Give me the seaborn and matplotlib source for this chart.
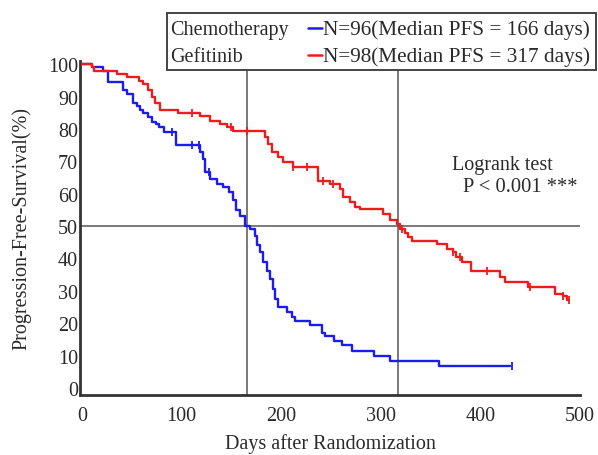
import numpy as np
import pandas as pd
import matplotlib
matplotlib.use("Agg")
import matplotlib.pyplot as plt
from matplotlib.patches import Rectangle
from matplotlib.lines import Line2D
import seaborn as sns

# ---------------- data ----------------
chemo_days = [0, 10, 21, 26, 40, 41, 45, 51, 55, 58, 61, 66, 70, 74, 77, 82, 94,
              118, 121, 124, 129, 136, 142, 148, 152, 155, 159, 164, 169, 174,
              176, 179, 182, 186, 189, 192, 194, 197, 206, 211, 214, 229, 241,
              244, 253, 261, 271, 293, 309, 358, 430]
chemo_surv = [100, 99, 98, 94.4, 94.4, 92, 90.7, 88, 87, 86, 85, 83.6, 82, 81.5,
              80.5, 79, 75, 73, 70.7, 66.6, 64.5, 63, 62, 60.5, 58, 55, 53, 50,
              49, 47, 44, 42, 39, 36, 33.6, 30.5, 27.5, 25, 23.5, 22, 20.8, 19.4,
              17, 16, 14.5, 13.3, 11.4, 9.9, 8.3, 6.8, 6.8]
chemo_cens_days = [90, 110, 117, 128, 432]

gef_days = [0, 10, 12, 35, 45, 57, 61, 66, 70, 73, 78, 96, 118, 129, 139, 146,
            152, 184, 187, 191, 197, 202, 212, 237, 249, 259, 262, 269, 274,
            279, 302, 309, 316, 319, 324, 327, 331, 356, 366, 372, 376, 382,
            391, 420, 425, 448, 475, 483, 487, 489]
gef_surv = [100, 99, 98, 97, 96, 94.8, 93.8, 92, 90, 88, 86, 85, 84, 82.5, 81.5,
            80.5, 79.5, 77.5, 75.3, 72.8, 71.3, 69.7, 68.2, 64, 63, 61.4, 59,
            57.4, 56, 55.2, 53.7, 52, 50.5, 49, 48, 46.6, 45.4, 44.4, 43, 42,
            40.4, 38.9, 36, 34.3, 32.7, 31.2, 29, 28.5, 27, 27]
gef_cens_days = [110, 150, 166, 212, 226, 242, 252, 321, 372, 380, 407, 450, 483, 489]

median_chemo = 166
median_gef = 317

x_ticks = [0, 100, 200, 300, 400, 500]
y_ticks = [0, 10, 20, 30, 40, 50, 60, 70, 80, 90, 100]

group_names = ["Chemotherapy", "Gefitinib"]
group_labels = ["N=96(Median PFS = 166 days)", "N=98(Median PFS = 317 days)"]
test_lines = ["Logrank test", "P < 0.001 ***"]
x_label = "Days after Randomization"
y_label = "Progression-Free-Survival(%)"

# ---------------- style ----------------
sns.set_theme(style="white")
plt.rcParams["font.family"] = ["Liberation Serif", "DejaVu Serif"]
FS = 14.5
TXT = "#2a2a2a"
BLUE = "#1c1cf0"
RED = "#ee1c1c"

W, H = 598, 456
fig = plt.figure(figsize=(W / 100, H / 100), dpi=100)
fig.patch.set_facecolor("white")
ax = fig.add_axes([80 / W, 1 - 396 / H, 500 / W, (396 - 62) / H])

ax.set_xlim(-2, 500)
ax.set_ylim(-2.2, 101)

# reference lines
ax.axhline(50, xmin=0, xmax=1, color="#555555", lw=1.1, zorder=1)
ax.axvline(median_chemo, color="#555555", lw=1.1, zorder=1)
ax.axvline(median_gef, color="#555555", lw=1.1, zorder=1)


def step_value(days, surv, t):
    idx = np.searchsorted(days, t, side="right") - 1
    return surv[max(idx, 0)]


chemo = pd.DataFrame({"day": chemo_days, "surv": chemo_surv})
gef = pd.DataFrame({"day": gef_days, "surv": gef_surv})
sns.lineplot(data=chemo, x="day", y="surv", estimator=None, drawstyle="steps-post",
             color=BLUE, lw=1.7, ax=ax, zorder=3)
sns.lineplot(data=gef, x="day", y="surv", estimator=None, drawstyle="steps-post",
             color=RED, lw=1.7, ax=ax, zorder=3)

cc = pd.DataFrame({"day": chemo_cens_days,
                   "surv": [step_value(chemo_days, chemo_surv, t) for t in chemo_cens_days]})
gc = pd.DataFrame({"day": gef_cens_days,
                   "surv": [step_value(gef_days, gef_surv, t) for t in gef_cens_days]})
sns.scatterplot(data=cc, x="day", y="surv", marker="|", s=30, color=BLUE,
                linewidth=1.3, ax=ax, zorder=4)
sns.scatterplot(data=gc, x="day", y="surv", marker="|", s=30, color=RED,
                linewidth=1.3, ax=ax, zorder=4)

# axes styling
for s in ["top", "right"]:
    ax.spines[s].set_visible(False)
for s in ["left", "bottom"]:
    ax.spines[s].set_color("#333333")
    ax.spines[s].set_linewidth(2.0)
ax.set_xticks(x_ticks)
ax.set_yticks(y_ticks)
ax.set_xticklabels([str(v) for v in x_ticks])
ax.set_yticklabels([str(v) for v in y_ticks])
ax.tick_params(axis="both", length=0, labelsize=FS, colors=TXT)
ax.tick_params(axis="y", pad=1.5)
ax.tick_params(axis="x", pad=8)
ax.set_xlabel(x_label, fontsize=FS, color=TXT, labelpad=6)
ax.set_ylabel(y_label, fontsize=FS, color=TXT, labelpad=12)
ax.grid(False)

# logrank text
ax.text(371, 69.1, test_lines[0], fontsize=FS, color=TXT, ha="left", va="center")
ax.text(383, 62.3, test_lines[1], fontsize=FS + 0.3, color=TXT, ha="left", va="center")

# legend box (figure pixel coords -> fractions)
def fx(px):
    return px / W


def fy(py):
    return 1 - py / H


fig.patches.append(Rectangle((fx(167), fy(71)), fx(596) - fx(167), fy(14) - fy(71),
                             transform=fig.transFigure, facecolor="white",
                             edgecolor="#444444", lw=1.4, zorder=5))
rows_y = [30, 57]
colors = [BLUE, RED]
for name, lab, yy, c in zip(group_names, group_labels, rows_y, colors):
    fig.text(fx(170), fy(yy), name, fontsize=FS, color=TXT, ha="left", va="center", zorder=6)
    fig.lines.append(Line2D([fx(308), fx(322)], [fy(yy - 1), fy(yy - 1)],
                            transform=fig.transFigure, color=c, lw=1.8, zorder=6))
    fig.text(fx(323), fy(yy), lab, fontsize=FS + 0.8, color=TXT, ha="left", va="center", zorder=6)

fig.savefig("out.png", dpi=100)
